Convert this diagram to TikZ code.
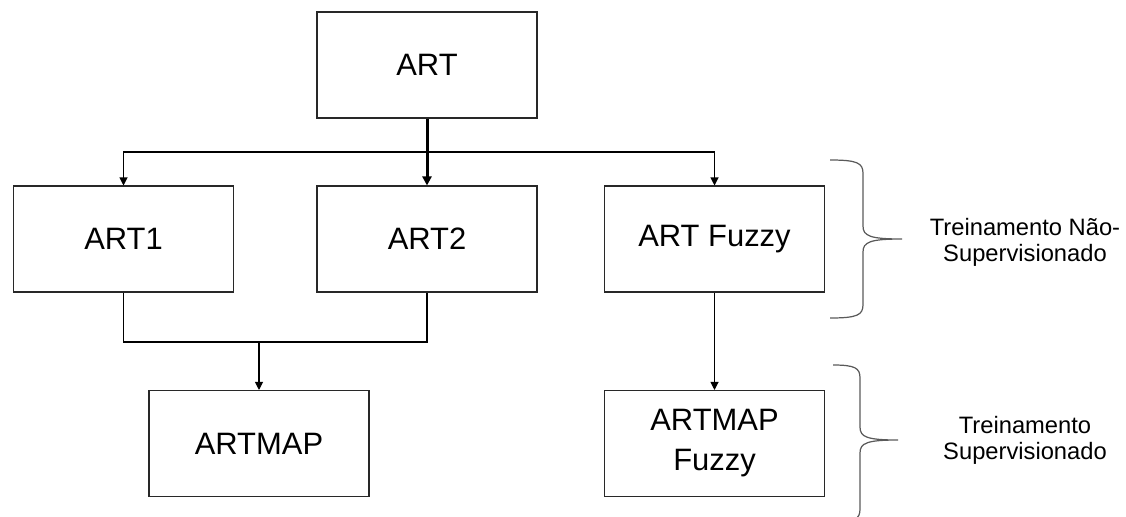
\documentclass[tikz,border=0pt]{standalone}
\usepackage{fontspec}
\setmainfont{Liberation Sans}
\usetikzlibrary{arrows.meta}
\definecolor{linegray}{RGB}{40,40,40}
\definecolor{bracegray}{RGB}{90,90,90}

\tikzset{
    block/.style={draw=linegray, line width=0.6pt, minimum width=4.4cm, minimum height=2.12cm,
        align=center, font=\fontsize{17.6}{22.8}\selectfont},
    link/.style={line width=0.6pt, -{Triangle[length=1.6mm, width=1.6mm]}},
    note/.style={align=center, font=\fontsize{13.5}{14.8}\selectfont}
}

\begin{document}
\begin{tikzpicture}
    \useasboundingbox (0,0) rectangle (22.52,10.32);

    % family tree
    \node[block] (art) at (8.54,9.02) {ART};
    \node[block] (art1) at (2.47,5.54) {ART1};
    \node[block] (art2) at (8.54,5.54) {ART2};
    \node[block] (artfz) at (14.29,5.54) {ART Fuzzy};
    \node[block] (artmap) at (5.18,1.45) {ARTMAP};
    \node[block] (artmapfz) at (14.29,1.45) {ARTMAP\\Fuzzy};

    \coordinate (split) at (8.54,7.28);
    \coordinate (merge) at (5.18,3.48);

    \draw[link, line width=1.7pt, -{Triangle[length=1.8mm, width=1.8mm]}] (art.south) -- (art2.north);
    \draw[link] (split) -| (art1.north);
    \draw[link] (split) -| (artfz.north);

    \draw[line width=0.6pt] (art1.south) -- (art1.south |- merge) -- (art2.south |- merge) -- (art2.south);
    \draw[link] (merge) -- (artmap.north);
    \draw[link] (artfz.south) -- (artmapfz.north);

    % braces
    \draw[bracegray, line width=0.7pt] (16.6,7.12) .. controls (17.15,7.12) and (17.26,7.06) .. (17.26,6.85)
        -- (17.26,5.8) .. controls (17.26,5.6) and (17.4,5.54) .. (18.04,5.54)
        .. controls (17.4,5.54) and (17.26,5.48) .. (17.26,5.28)
        -- (17.26,4.23) .. controls (17.26,4.02) and (17.15,3.96) .. (16.6,3.96);
    \draw[bracegray, line width=0.7pt] (16.66,3.02) .. controls (17.1,3.02) and (17.2,2.96) .. (17.2,2.76)
        -- (17.2,1.78) .. controls (17.2,1.58) and (17.34,1.52) .. (17.96,1.52)
        .. controls (17.34,1.52) and (17.2,1.46) .. (17.2,1.26)
        -- (17.2,0.14) .. controls (17.2,-0.06) and (17.1,-0.12) .. (16.66,-0.12);

    \node[note] (unsup) at (20.5,5.48) {Treinamento Não-\\Supervisionado};
    \node[note] (sup) at (20.5,1.52) {Treinamento\\Supervisionado};
\end{tikzpicture}
\end{document}
